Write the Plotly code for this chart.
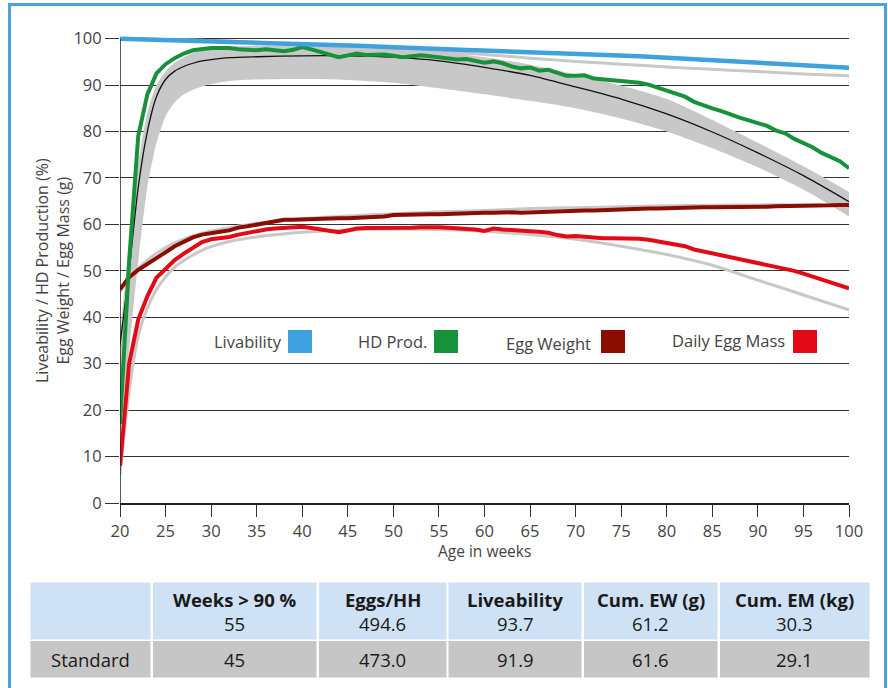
import plotly.graph_objects as go

# ---------------- data ----------------
weeks = list(range(20, 101))

livability = [
    100.0, 99.95, 99.9, 99.85, 99.8, 99.75, 99.7, 99.65, 99.6, 99.55,
    99.5, 99.45, 99.4, 99.35, 99.3, 99.2, 99.15, 99.1, 99.0, 98.95,
    98.9, 98.8, 98.75, 98.7, 98.6, 98.5, 98.45, 98.4, 98.3, 98.2,
    98.15, 98.1, 98.0, 97.9, 97.85, 97.8, 97.7, 97.6, 97.55, 97.5,
    97.4, 97.3, 97.25, 97.2, 97.1, 97.0, 96.95, 96.9, 96.85, 96.8,
    96.75, 96.7, 96.65, 96.6, 96.5, 96.4, 96.3, 96.2, 96.1, 96.0,
    95.9, 95.8, 95.7, 95.6, 95.4, 95.3, 95.2, 95.1, 95.0, 94.9,
    94.8, 94.7, 94.6, 94.5, 94.4, 94.3, 94.2, 94.1, 94.0, 93.85,
    93.75,
]

hd_prod = [
    17.0, 52.0, 79.0, 88.0, 92.5, 94.5, 95.8, 96.8, 97.5, 97.8,
    98.0, 98.0, 98.0, 97.7, 97.6, 97.5, 97.7, 97.6, 97.3, 97.6,
    98.2, 97.7, 97.2, 96.6, 96.0, 96.4, 96.8, 96.5, 96.5, 96.6,
    96.3, 96.0, 96.2, 96.4, 96.2, 96.0, 95.8, 95.5, 95.6, 95.2,
    94.8, 95.1, 94.7, 94.0, 93.6, 93.8, 93.1, 93.3, 92.7, 92.0,
    92.0, 92.1, 91.4, 91.2, 91.1, 91.0, 90.8, 90.5, 90.1, 89.5,
    88.9, 88.2, 87.5, 86.4, 85.6, 85.0, 84.4, 83.6, 83.0, 82.4,
    81.9, 81.2, 80.2, 79.6, 78.4, 77.6, 76.6, 75.4, 74.5, 73.6,
    72.1,
]

egg_weight = [
    46.0, 48.6, 50.2, 51.4, 52.7, 54.0, 55.3, 56.2, 57.2, 57.8,
    58.2, 58.4, 58.7, 59.3, 59.6, 59.9, 60.3, 60.7, 61.0, 61.0,
    61.1, 61.1, 61.2, 61.2, 61.3, 61.3, 61.4, 61.4, 61.4, 61.7,
    62.0, 62.1, 62.1, 62.2, 62.2, 62.2, 62.3, 62.4, 62.4, 62.5,
    62.5, 62.5, 62.6, 62.6, 62.5, 62.6, 62.7, 62.8, 62.9, 62.8,
    62.9, 63.0, 63.0, 63.1, 63.1, 63.2, 63.3, 63.3, 63.4, 63.4,
    63.5, 63.5, 63.6, 63.6, 63.7, 63.7, 63.7, 63.8, 63.8, 63.7,
    63.6, 63.8, 63.9, 63.9, 63.9, 64.0, 64.0, 64.1, 64.1, 64.2,
    64.2,
]

egg_mass = [
    8.0, 30.0, 39.5, 44.5, 48.5, 50.5, 52.3, 53.7, 55.0, 56.2,
    56.8, 57.0, 57.3, 57.8, 58.2, 58.6, 58.9, 59.1, 59.2, 59.4,
    59.5, 59.2, 58.9, 58.6, 58.3, 58.7, 59.1, 59.2, 59.2, 59.1,
    59.1, 59.2, 59.3, 59.4, 59.5, 59.4, 59.3, 59.2, 59.1, 58.9,
    58.6, 59.1, 58.9, 58.7, 58.5, 58.5, 58.4, 58.2, 57.7, 57.4,
    57.5, 57.3, 57.1, 57.0, 57.0, 57.0, 57.0, 56.9, 56.7, 56.4,
    56.1, 55.8, 55.3, 54.6, 54.2, 53.7, 53.3, 52.8, 52.5, 52.1,
    51.8, 51.4, 50.9, 50.4, 50.0, 49.4, 48.8, 48.2, 47.5, 46.9,
    46.2,
]

weeks_std = [20, 21, 22, 23, 24, 25, 26, 27, 28, 29, 30, 32, 35,
             40, 45, 50, 55, 60, 65, 70, 75, 80, 85, 90, 95, 100]

liv_std = [100.0, 100.0, 99.95, 99.9, 99.85, 99.8, 99.8, 99.75, 99.7, 99.65,
           99.6, 99.5, 99.2, 98.7, 98.2, 97.7, 97.2, 96.6, 95.8, 95.1,
           94.5, 93.9, 93.4, 92.9, 92.4, 92.0]

hd_std = [34.0, 50.0, 68.0, 80.0, 87.5, 91.2, 93.0, 94.0, 94.7, 95.2,
          95.5, 95.9, 96.1, 96.3, 96.3, 96.0, 95.2, 93.8, 92.1, 89.6,
          87.0, 83.8, 79.9, 75.4, 70.5, 64.9]

hd_std_upper = [36.0, 56.0, 73.0, 84.0, 90.0, 93.0, 94.8, 96.0, 96.9, 97.5,
                97.9, 98.3, 98.5, 98.6, 98.5, 98.0, 97.2, 96.0, 94.4, 92.3,
                89.9, 87.0, 82.5, 77.6, 72.5, 67.0]

hd_std_lower = [15.0, 33.0, 52.0, 68.0, 77.5, 83.3, 86.3, 88.0, 89.0, 89.7,
                90.2, 90.9, 91.2, 91.3, 91.1, 90.5, 89.3, 88.0, 86.6, 85.0,
                82.8, 80.0, 76.4, 72.3, 67.5, 61.7]

ew_std = [45.5, 48.5, 50.5, 52.3, 53.8, 55.0, 56.0, 56.8, 57.5, 58.1,
          58.6, 59.3, 60.2, 61.2, 61.8, 62.3, 62.7, 63.0, 63.4, 63.6,
          63.8, 64.0, 64.1, 64.2, 64.2, 64.0]

em_std = [6.0, 24.0, 36.0, 42.0, 46.0, 48.7, 50.8, 52.2, 53.4, 54.4,
          55.2, 56.3, 57.3, 58.3, 58.8, 59.0, 58.9, 58.5, 57.8, 56.8,
          55.3, 53.5, 51.2, 48.0, 44.8, 41.6]

y_ticks = list(range(0, 101, 10))
x_ticks = list(range(20, 101, 5))

legend_labels = ["Livability", "HD Prod.", "Egg Weight", "Daily Egg Mass"]

table_header = ["", "Weeks > 90 %", "Eggs/HH", "Liveability", "Cum. EW (g)", "Cum. EM (kg)"]
table_actual = ["", "55", "494.6", "93.7", "61.2", "30.3"]
table_standard = ["Standard", "45", "473.0", "91.9", "61.6", "29.1"]

# ---------------- styles ----------------
C_BLUE = "#3fa1dd"
C_GREEN = "#18923a"
C_DRED = "#8b0d02"
C_RED = "#e30a17"
C_GREY = "#c8c8c8"
C_FRAME = "#4aa3df"
C_TXT = "#444444"
FONT = "Open Sans"

FIG_W, FIG_H = 888, 688
ML, MR, MT, MB = 120, 39, 34, 185
PW = FIG_W - ML - MR
PH = FIG_H - MT - MB
BOTTOM = FIG_H - MB


def px(x):
    return (x - ML) / PW


def py(y):
    return (BOTTOM - y) / PH


fig = go.Figure()

spl = dict(shape="spline", smoothing=0.7)

fig.add_trace(go.Scatter(x=weeks_std, y=hd_std_lower, mode="lines",
                         line=dict(width=0, color=C_GREY, **spl),
                         hoverinfo="skip", showlegend=False))
fig.add_trace(go.Scatter(x=weeks_std, y=hd_std_upper, mode="lines",
                         line=dict(width=0, color=C_GREY, **spl),
                         fill="tonexty", fillcolor=C_GREY,
                         hoverinfo="skip", showlegend=False))
for ys in (liv_std, ew_std, em_std):
    fig.add_trace(go.Scatter(x=weeks_std, y=ys, mode="lines",
                             line=dict(width=3, color=C_GREY, **spl),
                             hoverinfo="skip", showlegend=False))
fig.add_trace(go.Scatter(x=weeks_std, y=hd_std, mode="lines",
                         line=dict(width=1.3, color="#111111", **spl),
                         showlegend=False))

fig.add_trace(go.Scatter(x=weeks, y=egg_weight, mode="lines", name="Egg Weight",
                         line=dict(width=4, color=C_DRED), showlegend=False))
fig.add_trace(go.Scatter(x=weeks, y=egg_mass, mode="lines", name="Daily Egg Mass",
                         line=dict(width=4, color=C_RED), showlegend=False))
fig.add_trace(go.Scatter(x=weeks, y=hd_prod, mode="lines", name="HD Prod.",
                         line=dict(width=4, color=C_GREEN), showlegend=False))
fig.add_trace(go.Scatter(x=weeks, y=livability, mode="lines", name="Livability",
                         line=dict(width=4.5, color=C_BLUE), showlegend=False))

shapes = []
annotations = []

# y axis line
shapes.append(dict(type="line", xref="x", yref="y", x0=20, x1=20, y0=0, y1=100,
                   line=dict(color="#222222", width=1.5)))

# outer frame
shapes.append(dict(type="rect", xref="paper", yref="paper",
                   x0=px(9.5), x1=px(885.5), y0=py(710), y1=py(4.5),
                   line=dict(color=C_FRAME, width=3)))

# legend (squares + labels)
legend_colors = [C_BLUE, C_GREEN, C_DRED, C_RED]
leg_text_right = [284, 429, 593, 787]
leg_sq_left = [288, 434, 601, 793]
leg_text_y = [341, 341, 343, 340]
for lab, col, tr, sl, ty in zip(legend_labels, legend_colors, leg_text_right, leg_sq_left, leg_text_y):
    shapes.append(dict(type="rect", xref="paper", yref="paper",
                       x0=px(sl), x1=px(sl + 24), y0=py(353), y1=py(330),
                       line=dict(width=0), fillcolor=col))
    annotations.append(dict(text=lab, xref="paper", yref="paper", x=px(tr), y=py(ty),
                            xanchor="right", yanchor="middle", showarrow=False,
                            font=dict(family=FONT, size=16.5, color=C_TXT)))

# axis titles
annotations.append(dict(text="Liveability / HD Production (%)<br>Egg Weight / Egg Mass (g)",
                        xref="paper", yref="paper", x=px(52), y=py(271),
                        xanchor="center", yanchor="middle", textangle=-90,
                        showarrow=False, font=dict(family=FONT, size=16, color=C_TXT)))
annotations.append(dict(text="Age in weeks", xref="paper", yref="paper",
                        x=px(484), y=py(551), xanchor="center", yanchor="middle",
                        showarrow=False, font=dict(family=FONT, size=15.5, color=C_TXT)))

# table
col_bounds = [(30.5, 150.5), (153, 316.5), (319, 446.5), (448.5, 581.5), (584, 717.5), (720, 869.5)]
HEAD_TOP, HEAD_BOT = 582.5, 639.5
STD_TOP, STD_BOT = 641, 677.5
TFONT = 18.5
for (x0, x1), hdr, act, std in zip(col_bounds, table_header, table_actual, table_standard):
    shapes.append(dict(type="rect", xref="paper", yref="paper",
                       x0=px(x0), x1=px(x1), y0=py(HEAD_BOT), y1=py(HEAD_TOP),
                       line=dict(width=0), fillcolor="#cfe2f5"))
    shapes.append(dict(type="rect", xref="paper", yref="paper",
                       x0=px(x0), x1=px(x1), y0=py(STD_BOT), y1=py(STD_TOP),
                       line=dict(width=0), fillcolor="#c6c6c6"))
    cx = px((x0 + x1) / 2)
    if hdr:
        annotations.append(dict(text="<b>" + hdr + "</b>", xref="paper", yref="paper",
                                x=cx, y=py(599), xanchor="center", yanchor="middle",
                                showarrow=False, font=dict(family=FONT, size=TFONT, color="#1a1a1a")))
    if act:
        annotations.append(dict(text=act, xref="paper", yref="paper",
                                x=cx, y=py(623), xanchor="center", yanchor="middle",
                                showarrow=False, font=dict(family=FONT, size=TFONT, color="#1a1a1a")))
    annotations.append(dict(text=std, xref="paper", yref="paper",
                            x=cx, y=py(659.5), xanchor="center", yanchor="middle",
                            showarrow=False, font=dict(family=FONT, size=TFONT, color="#1a1a1a")))

fig.update_layout(
    width=FIG_W, height=FIG_H,
    margin=dict(l=ML, r=MR, t=MT, b=MB, pad=0),
    paper_bgcolor="white", plot_bgcolor="white",
    font=dict(family=FONT, color=C_TXT),
    showlegend=False,
    shapes=shapes,
    annotations=annotations,
    xaxis=dict(range=[20, 100], tickvals=x_ticks, ticks="outside", ticklen=12,
               tickwidth=1.3, tickcolor="#333333", showline=True, linecolor="#222222",
               linewidth=1.5, showgrid=False, zeroline=False, automargin=False,
               tickfont=dict(family=FONT, size=16.5, color=C_TXT)),
    yaxis=dict(range=[0, 101], tickvals=y_ticks, ticks="outside", ticklen=14,
               tickwidth=1.3, tickcolor="#333333", showline=False,
               showgrid=True, gridcolor="#333333", gridwidth=1.3,
               zeroline=False, automargin=False,
               tickfont=dict(family=FONT, size=16.5, color=C_TXT)),
)

fig.write_html("out.html", config={"displayModeBar": False},
               post_script="document.body.style.margin='0';")
